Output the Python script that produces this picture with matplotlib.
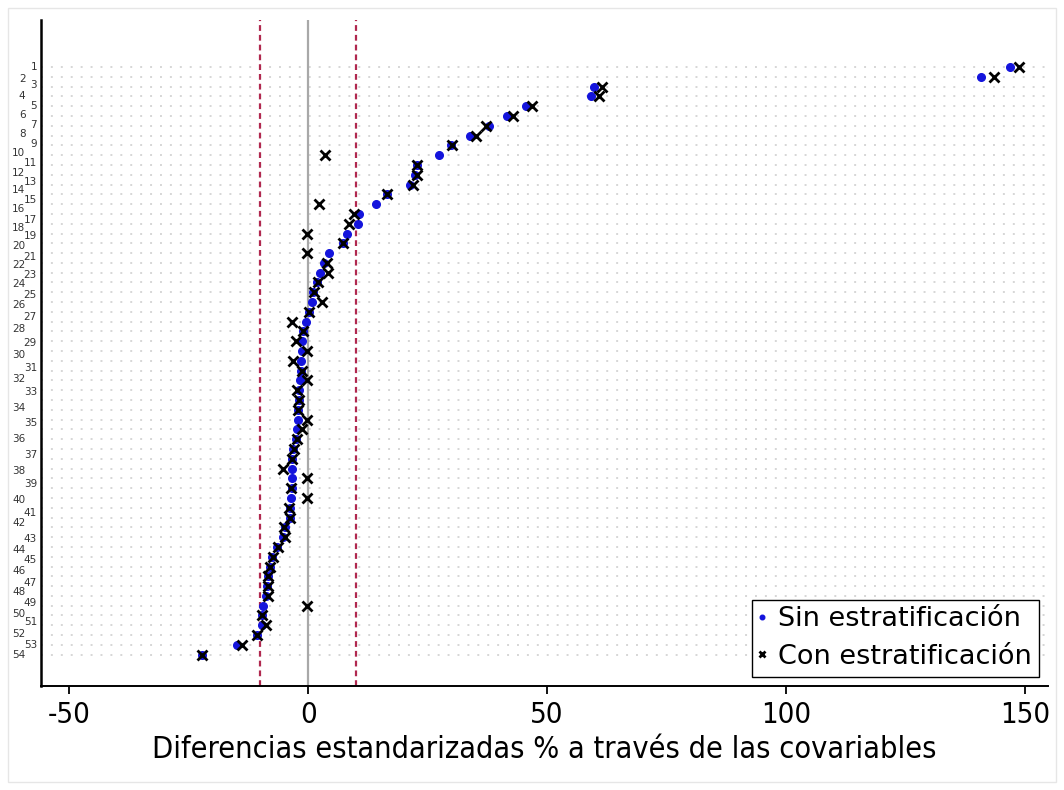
import matplotlib
matplotlib.use("Agg")
import matplotlib.pyplot as plt
from matplotlib import font_manager
from matplotlib.patches import Rectangle

# standardized % bias per covariate, sorted (one value per row, top to bottom)
sin_estrat = [146.9, 140.8, 59.8, 59.2, 45.6, 41.6, 37.8, 33.9, 29.9, 27.4,
              22.8, 22.4, 21.3, 16.5, 14.2, 10.7, 10.5, 8.2, 7.3, 4.4,
              3.3, 2.5, 1.9, 1.1, 0.9, 0.1, -0.4, -1.0, -1.3, -1.3,
              -1.5, -1.5, -1.7, -1.9, -1.9, -2.1, -2.1, -2.3, -2.5, -3.1,
              -3.3, -3.3, -3.3, -3.3, -3.6, -3.8, -3.8, -4.8, -5.2, -6.5,
              -7.5, -7.9, -8.4, -8.6, -8.8, -9.5, -9.6, -9.7, -10.7, -14.9,
              -22.2]
con_estrat = [148.7, 143.5, 61.5, 60.9, 46.9, 42.9, 37.3, 35.1, 30.1, 3.6,
              22.8, 22.8, 21.9, 16.5, 2.3, 9.6, 8.6, -0.2, 7.3, -0.2,
              4.0, 4.2, 2.1, 1.3, 2.9, 0.1, -3.4, -1.0, -2.5, -0.2,
              -3.1, -1.3, -0.2, -2.3, -1.9, -2.1, -0.2, -1.3, -2.3, -2.9,
              -3.3, -5.2, -0.2, -3.6, -0.2, -4.0, -3.8, -5.0, -4.8, -6.3,
              -7.3, -7.9, -8.4, -8.4, -8.4, -0.2, -9.6, -8.8, -10.7, -13.8,
              -22.2]

# covariate labels and where they sit on the row scale
cov_labels = [str(i) for i in range(1, 55)]
cov_label_pos = [1.0, 2.2, 2.8, 4.0, 5.0, 5.9, 6.9, 7.8, 8.9, 9.8,
                 10.8, 11.8, 12.7, 13.6, 14.6, 15.5, 16.6, 17.4, 18.3, 19.3,
                 20.4, 21.2, 22.2, 23.2, 24.3, 25.3, 26.5, 27.8, 29.2, 30.4,
                 31.7, 32.9, 34.2, 35.8, 37.3, 39.0, 40.6, 42.2, 43.6, 45.2,
                 46.5, 47.6, 49.2, 50.3, 51.3, 52.5, 53.7, 54.6, 55.7, 56.8,
                 57.7, 58.9, 60.0, 61.0]

xticks = [-50, 0, 50, 100, 150]
umbral = 10

rows = list(range(1, len(sin_estrat) + 1))

# use the condensed DejaVu face if it is around, else the normal one
fp = font_manager.FontProperties(family="DejaVu Sans", stretch="condensed")
stretch = "condensed" if "ondensed" in font_manager.findfont(fp) else "normal"
plt.rcParams["font.family"] = "DejaVu Sans"
plt.rcParams["font.stretch"] = stretch

fig = plt.figure(figsize=(10.64, 7.90), dpi=100)
fig.patches.append(Rectangle((8 / 1064, 8 / 790), 1048 / 1064, 774 / 790,
                             transform=fig.transFigure, fill=False,
                             edgecolor="#e6e6e6", linewidth=1))
ax = fig.add_axes([41 / 1064, 1 - 686 / 790, 1007 / 1064, 666 / 790])

for r in rows:
    ax.axhline(r, color="#d6d6d6", linewidth=1.4, dashes=(1, 4.1), zorder=0)

ax.axvline(0, color="#a8a8a8", linewidth=1.6, zorder=1)
ax.axvline(-umbral, color="#b0284f", linewidth=1.6, dashes=(2.6, 1.8), zorder=1)
ax.axvline(umbral, color="#b0284f", linewidth=1.6, dashes=(2.6, 1.8), zorder=1)

ax.plot(sin_estrat, rows, "o", color="#1414dc", markersize=5.5,
        linestyle="none", zorder=3, label="Sin estratificación")
ax.plot(con_estrat, rows, "x", color="black", markersize=7.5,
        markeredgewidth=2, linestyle="none", zorder=4,
        label="Con estratificación")

ax.set_xlim(-55.9, 154.8)
ax.set_ylim(64.2, -3.8)

ax.set_xticks(xticks)
ax.set_xticklabels([str(t) for t in xticks], fontsize=21)
ax.tick_params(axis="x", length=6, width=1.3, pad=5, colors="black")
ax.set_yticks([])
ax.set_xlabel("Diferencias estandarizadas % a través de las covariables",
              fontsize=22, labelpad=4)

# staggered covariate labels: odd ones close to the axis, even ones further out
ytrans = ax.get_yaxis_transform()
for lab, pos in zip(cov_labels, cov_label_pos):
    xoff = -0.004 if int(lab) % 2 == 1 else -0.0155
    ax.text(xoff, pos, lab, transform=ytrans, ha="right", va="center",
            fontsize=7.5, fontstretch="normal", color="#333333")

for s in ["top", "right"]:
    ax.spines[s].set_visible(False)
ax.spines["left"].set_linewidth(1.8)
ax.spines["bottom"].set_linewidth(1.4)

leg = ax.legend(loc="lower right", markerscale=0.6,
                prop={"family": "DejaVu Sans", "stretch": "normal", "size": 19.5},
                handlelength=0.2, handletextpad=0.5, borderpad=0.25,
                labelspacing=0.42, borderaxespad=0.35, fancybox=False,
                framealpha=1, edgecolor="black")
leg.get_frame().set_linewidth(1.0)

fig.savefig("out.png", dpi=100)
